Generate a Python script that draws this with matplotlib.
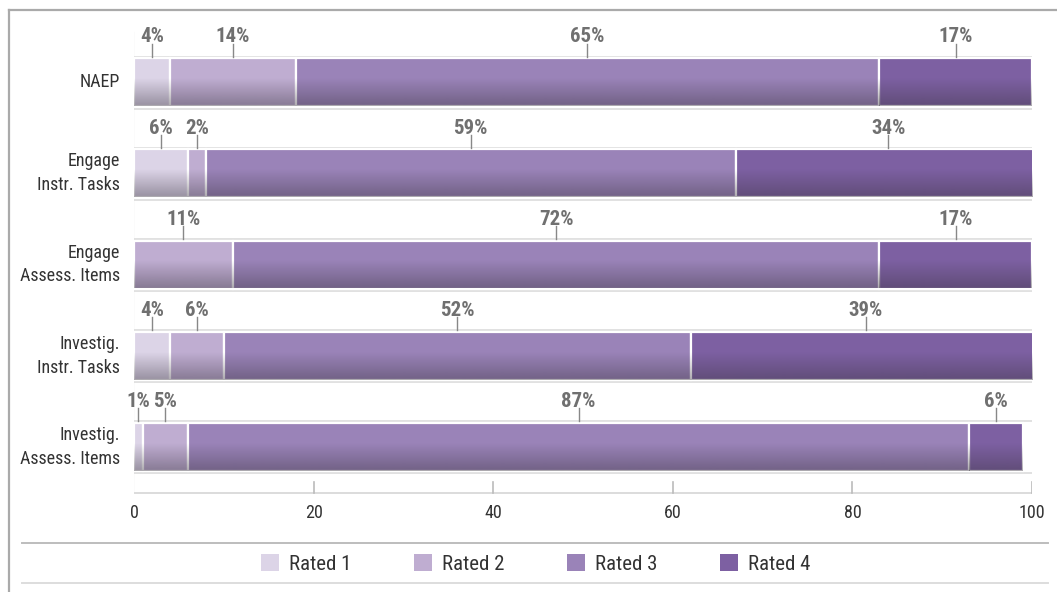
import numpy as np
import matplotlib
matplotlib.use('Agg')
import matplotlib.pyplot as plt
from matplotlib import font_manager
from matplotlib.colors import to_rgb
from matplotlib.lines import Line2D
from matplotlib.patches import Patch


categories = ['NAEP', 'Engage\nInstr. Tasks', 'Engage\nAssess. Items',
              'Investig.\nInstr. Tasks', 'Investig.\nAssess. Items']
rated1 = [4, 6, 0, 4, 1]
rated2 = [14, 2, 11, 6, 5]
rated3 = [65, 59, 72, 52, 87]
rated4 = [17, 34, 17, 39, 6]
series_names = ['Rated 1', 'Rated 2', 'Rated 3', 'Rated 4']
xticks = [0, 20, 40, 60, 80, 100]

COLORS = ['#dcd4e7', '#bfadd1', '#9a83b8', '#7d60a2']
FRAME = '#dcdcdc'
LABEL_GRAY = '#707070'
TEXT = '#333333'

installed = {f.name for f in font_manager.fontManager.ttflist}
FONT = next((f for f in ['Liberation Sans Narrow', 'Roboto Condensed', 'Liberation Sans']
             if f in installed), 'DejaVu Sans')
plt.rcParams['font.family'] = [FONT, 'DejaVu Sans']

W, H = 1057, 592
fig = plt.figure(figsize=(W / 100, H / 100), dpi=100)
ax = fig.add_axes([134 / W, 1 - 494 / H, (1032 - 134) / W, (494 - 30) / H])

ROW = 91.25           # px between row centres
px = 1 / ROW          # one pixel in y data units
hh = 24 * px          # half bar height
ax.set_xlim(0, 100)
ax.set_ylim(4 + (494 - 447) * px, -(82 - 30) * px)
ax.axis('off')

series = [rated1, rated2, rated3, rated4]
y = np.arange(len(categories))

# vertical shading that darkens the lower half of each bar
shade = np.zeros((64, 1, 4))
shade[..., :3] = to_rgb('#3a3340')
t = np.linspace(0, 1, 64)
shade[:, 0, 3] = np.clip((t - 0.42) / 0.58, 0, 1) * 0.42

left = np.zeros(len(categories))
for vals, color in zip(series, COLORS):
    vals = np.array(vals, dtype=float)
    bars = ax.barh(y, vals, left=left, height=2 * hh, color=color,
                   edgecolor='white', linewidth=1.6, zorder=2)
    for i, (b, v) in enumerate(zip(bars, vals)):
        if v <= 0:
            continue
        im = ax.imshow(shade, extent=(0, 100, i + hh, i - hh), origin='upper',
                       aspect='auto', interpolation='bilinear', zorder=3)
        im.set_clip_path(b)
        # value label with a short leader tick
        mid = left[i] + v / 2
        base = i - hh - 1.5 * px
        ax.plot([mid, mid], [base, base - 13 * px], color='#888888', lw=1, zorder=4)
        ax.text(mid, base - 14 * px, f'{int(v)}%', ha='center', va='baseline',
                fontsize=15, fontweight='bold', color=LABEL_GRAY, zorder=5)
    left += vals

# light frames around each row and the label strip above it
x_left, x_right = -0.11, 100.3
strip_top = ax.get_ylim()[1] + 3 * px
for i in y:
    top = i - hh - 1.5 * px
    bot = i + hh + 2.5 * px
    ax.plot([x_left, x_right], [top, top], color=FRAME, lw=1.2, zorder=1)
    ax.plot([x_left, x_right], [bot, bot], color=FRAME, lw=1.2, zorder=1)
    ax.plot([x_right, x_right], [top, bot], color=FRAME, lw=1.2, zorder=1)
    ax.plot([x_left, x_left], [strip_top, top], color=FRAME, lw=1.6, zorder=1)
    strip_top = bot
    ax.text(-14 / 8.98, i, categories[i], ha='right', va='center',
            fontsize=13, color=TEXT, linespacing=1.4)

# bottom scale
axis_y = 4 + (493 - 447) * px
ax.plot([x_left, x_left], [strip_top, axis_y], color=FRAME, lw=1.6, zorder=1)
ax.plot([x_left, x_right], [axis_y, axis_y], color=FRAME, lw=1.4, zorder=1)
for xt in xticks:
    if xt > 0:
        ax.plot([xt, xt], [axis_y, axis_y - 11 * px], color='#bbbbbb', lw=1.2, zorder=1)
    ax.text(xt, axis_y + 20 * px, str(xt), ha='center', va='center',
            fontsize=13, color=TEXT, clip_on=False)

# outer border and legend rules
fig.add_artist(Line2D([9 / W, 1], [1 - 10 / H, 1 - 10 / H], color='#aaaaaa', lw=1.6))
fig.add_artist(Line2D([9 / W, 9 / W], [0, 1 - 10 / H], color='#aaaaaa', lw=1.6))
fig.add_artist(Line2D([22 / W, 1048 / W], [1 - 543 / H, 1 - 543 / H], color='#bdbdbd', lw=1.4))
fig.add_artist(Line2D([22 / W, 1048 / W], [1 - 583 / H, 1 - 583 / H], color='#dddddd', lw=1.4))

handles = [Patch(facecolor=c, edgecolor='none') for c in COLORS]
fig.legend(handles, series_names, loc='center', bbox_to_anchor=(536 / W, 1 - 564 / H),
           ncol=4, frameon=False, fontsize=15, handlelength=0.85, handleheight=0.85,
           handletextpad=0.5, columnspacing=3.0, labelcolor=TEXT)

fig.savefig('out.png', dpi=100)
